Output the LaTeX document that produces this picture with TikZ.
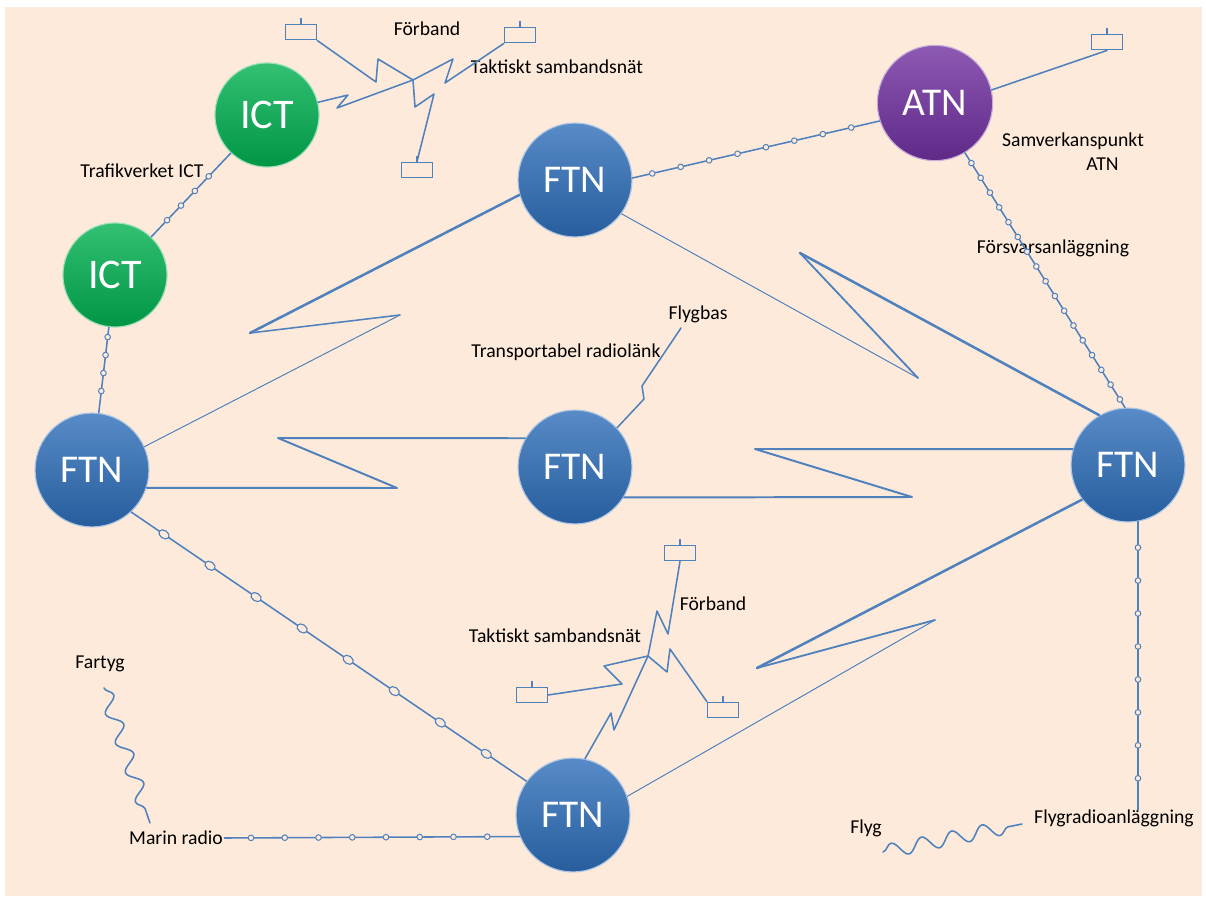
\documentclass[tikz,border=0pt]{standalone}
\usepackage{fontspec}
\setmainfont{Carlito}
\usetikzlibrary{decorations.markings,decorations.pathmorphing}
\definecolor{bgpeach}{RGB}{253,234,218}
\definecolor{linkblue}{RGB}{79,129,189}
\definecolor{ftnblue}{RGB}{46,110,185}
\definecolor{ictgreen}{RGB}{0,176,80}
\definecolor{atnpurple}{RGB}{112,48,160}

\begin{document}
\begin{tikzpicture}[x=0.025cm, y=-0.025cm,
ball/.style={circle, inner sep=0pt, text=white,
  top color=#1!80!white, bottom color=#1!85!black, draw=#1!40!white, line width=0.8pt},
ftn/.style={ball=ftnblue, minimum size=81pt, font=\fontsize{28}{30}\selectfont},
ict/.style={ball=ictgreen, minimum size=74pt, font=\fontsize{30}{32}\selectfont},
atn/.style={ball=atnpurple, minimum size=82pt, font=\fontsize{28}{30}\selectfont},
lbl/.style={font=\fontsize{14}{17}\selectfont, inner sep=1pt, align=center},
unit/.style={draw=linkblue, line width=1pt, minimum width=22pt, minimum height=11pt, inner sep=0pt},
link/.style={draw=linkblue, line width=1.1pt, line cap=round},
thick link/.style={draw=linkblue, line width=1.8pt, line cap=round},
thin link/.style={draw=linkblue, line width=0.7pt, line cap=round},
beads/.style 2 args={link, postaction={decorate, decoration={markings,
  mark=between positions #1 step #2 with {\draw[linkblue, fill=bgpeach, line width=0.7pt] (0,0) circle (2pt);}}}},
ovals/.style 2 args={link, postaction={decorate, decoration={markings,
  mark=between positions #1 step #2 with {\draw[linkblue, fill=bgpeach, line width=0.8pt] (0,0) ellipse (4pt and 2.8pt);}}}},
wave/.style={link, decorate, decoration={snake, amplitude=5pt, segment length=#1}}
]
\useasboundingbox (0,0) rectangle (1206,902);
\fill[bgpeach] (5,7) rectangle (1202,896);

% network nodes
\node[ict] (ictA) at (267,115) {ICT};
\node[ict] (ictB) at (115,275) {ICT};
\node[atn] (atn) at (935,103) {ATN};
\node[ftn] (ftnT) at (575,180) {FTN};
\node[ftn] (ftnL) at (92,470) {FTN};
\node[ftn] (ftnC) at (575,467) {FTN};
\node[ftn] (ftnR) at (1128,465) {FTN};
\node[ftn] (ftnB) at (573,815) {FTN};

% units
\node[unit] (bxA) at (301,32) {};
\node[unit] (bxB) at (520,35) {};
\node[unit] (bxC) at (417,170) {};
\node[unit] (bxD) at (1107,42) {};
\node[unit] (bxE) at (680,553) {};
\node[unit] (bxF) at (532,695) {};
\node[unit] (bxG) at (723,710) {};
\foreach \b in {bxA,bxB,bxC,bxD,bxE,bxF,bxG}
  \draw[link] (\b.north) -- ++(0,-5);

% labels
\node[lbl] (forbA) at (427,29) {Förband};
\node[lbl] (taktA) at (557,67) {Taktiskt sambandsnät};
\node[lbl] (trafik) at (142,171) {Trafikverket ICT};
\node[lbl] (samv) at (1073,152) {Samverkanspunkt\\\hspace*{3em}ATN};
\node[lbl] (forsv) at (1053,248) {Försvarsanläggning};
\node[lbl] (flygbas) at (698,314) {Flygbas};
\node[lbl] (transp) at (566,352) {Transportabel radiolänk};
\node[lbl] (forbB) at (713,604) {Förband};
\node[lbl] (taktB) at (555,636) {Taktiskt sambandsnät};
\node[lbl] (fartyg) at (100,664) {Fartyg};
\node[lbl] (marin) at (176,838) {Marin radio};
\node[lbl] (flyg) at (866,828) {Flyg};
\node[lbl] (flygradio) at (1114,818) {Flygradioanläggning};

% fixed lines
\draw[beads={0.2 and 0.74}{0.175}] (ictB) -- (ictA);
\draw[beads={0.115 and 0.76}{0.21}] (ictB) -- (ftnL);
\draw[beads={0.08 and 0.9}{0.115}] (ftnT.2) -- (atn.198);
\draw[beads={0.04 and 0.97}{0.058}] (atn.-59) -- (ftnR.93);
\draw[ovals={0.083 and 0.91}{0.1165}] (ftnL.-47) -- (ftnB.144);
\draw[beads={0.09 and 0.91}{0.1143}] (marin.east) -- (ftnB.202);
\coordinate (fradioTop) at (1138,810);
\draw[beads={0.09 and 0.91}{0.1143}] (ftnR.-80) -- (fradioTop);

% radio links, FTN to FTN
\coordinate (zA1) at (250,333);
\coordinate (zA2) at (400,315);
\draw[thick link] (ftnT.195) -- (zA1);
\draw[link] (zA1) -- (zA2);
\draw[thin link] (zA2) -- (ftnL.24);

\coordinate (zB1) at (278,438);
\coordinate (zB2) at (397,488);
\draw[link, line width=1.4pt, line join=round] (ftnC.150) -- (zB1) -- (zB2) -- (ftnL.-18);

\coordinate (zC1) at (755,449);
\coordinate (zC2) at (912,497);
\draw[link, line width=1.4pt, line join=round] (ftnR.164) -- (zC1) -- (zC2) -- (ftnC.-32);

\coordinate (zD1) at (918,378);
\coordinate (zD2) at (800,253);
\draw[thin link] (ftnT.-36) -- (zD1);
\draw[link, line width=1.3pt] (zD1) -- (zD2);
\draw[thick link] (zD2) -- (ftnR.120);

\coordinate (zE1) at (757,668);
\coordinate (zE2) at (935,620);
\draw[thick link] (ftnR.217) -- (zE1);
\draw[link, line width=1.3pt] (zE1) -- (zE2);
\draw[thin link] (zE2) -- (ftnB.19);

% tactical net, top
\coordinate (hubA) at (413,80);
\draw[link, line join=round] (ictA.14) -- (348,95) -- (337,108) -- (hubA);
\draw[link, line join=round] (bxA.south east) -- (376,82) -- (378,59) -- (hubA);
\draw[link, line join=round] (hubA) -- (453,59) -- (445,83) -- (bxB.south west);
\draw[link, line join=round] (hubA) -- (415,107) -- (434,94) -- (bxC.north);
\draw[link] (atn.13) -- (bxD.south);

% tactical net, bottom
\coordinate (hubB) at (648,656);
\draw[link, line join=round] (bxE.south) -- (668,634) -- (657,611) -- (hubB);
\draw[link, line join=round] (bxF.east) -- (622,684) -- (604,666) -- (hubB);
\draw[link, line join=round] (hubB) -- (667,672) -- (670,649) -- (bxG.north west);
\draw[link, line join=round] (ftnB.78) -- (611,713) -- (614,730) -- (hubB);

% Flygbas
\draw[link, line join=round] (ftnC.43) -- (644,399) -- (642,386) -- (681,328);

% radio waves
\coordinate (fartygS) at (104,688);
\coordinate (fartygE) at (150,823);
\draw[wave=22pt] (fartygS) -- (fartygE);
\coordinate (flygS) at (883,852);
\coordinate (flygE) at (1022,824);
\draw[wave=22pt] (flygS) -- (flygE);
\end{tikzpicture}
\end{document}
